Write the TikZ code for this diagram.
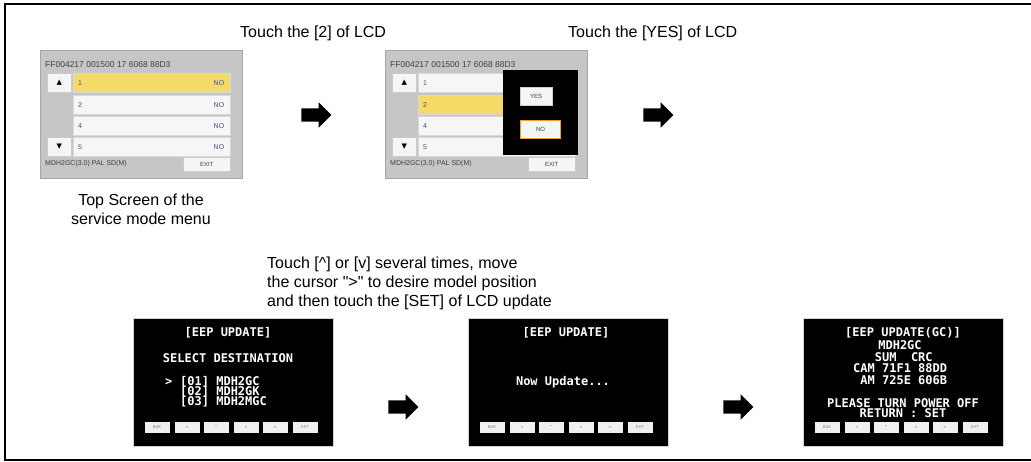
\documentclass[tikz,border=0pt]{standalone}
\usepackage{fontspec}
\setmainfont{Liberation Sans}
\newfontfamily\lcdfont{DejaVu Sans Mono}
\newfontfamily\symfont{DejaVu Sans}
\usetikzlibrary{positioning,shapes.arrows}
\definecolor{panelgray}{RGB}{198,198,198}
\definecolor{rowwhite}{RGB}{246,246,246}
\definecolor{rowyellow}{RGB}{246,218,104}
\definecolor{rowblue}{RGB}{70,80,130}
\definecolor{btnorange}{RGB}{240,160,40}

\begin{document}
\begin{tikzpicture}[x=1pt, y=-1pt,
  panel/.style={draw=gray!70, fill=panelgray, minimum width=202pt, minimum height=128pt, anchor=north west, inner sep=0pt},
  listrow/.style={draw=gray!30, fill=rowwhite, minimum width=157pt, minimum height=19pt, anchor=north west, inner sep=0pt},
  arrowbtn/.style={draw=gray!40, fill=gray!8, minimum width=24pt, minimum height=19pt, anchor=north west, inner sep=0pt, font=\symfont\fontsize{7}{7}\selectfont},
  tinytext/.style={inner sep=0pt, font=\fontsize{7}{8}\selectfont, text=gray!50!black},
  rowtext/.style={inner sep=0pt, font=\fontsize{7}{8}\selectfont, text=rowblue},
  okbtn/.style={draw=gray!40, fill=gray!8, anchor=north west, inner sep=0pt, font=\fontsize{6}{7}\selectfont, text=gray!50!black},
  lcd/.style={draw=gray!35, fill=black, minimum width=200pt, minimum height=128pt, anchor=north west, inner sep=0pt},
  lcdtext/.style={inner sep=0pt, text=white, font=\lcdfont\bfseries\fontsize{12}{12}\selectfont},
  lcdkey/.style={fill=gray!12, minimum width=25pt, minimum height=11pt, inner sep=0pt, font=\symfont\fontsize{4}{4}\selectfont, text=gray},
  bigarrow/.style={single arrow, fill=black, minimum height=30pt, inner xsep=0pt, inner ysep=6.5pt, single arrow head extend=6pt},
  caption/.style={inner sep=0pt, font=\fontsize{16}{19}\selectfont}
]
\useasboundingbox (0,0) rectangle (1031,462);

% Frame
\draw[line width=1.5pt] (5,4) rectangle (1034,460);

% Top screen of the service mode menu
\node[panel] (scr1) at (40,50) {};
\node[tinytext, anchor=west, font=\fontsize{8.5}{9}\selectfont] (hdr1) at (45,65) {FF004217 001500 17 6068 88D3};
\node[arrowbtn] (up1) at (47,73) {▲};
\node[arrowbtn] (dn1) at (47,137) {▼};
\node[listrow, fill=rowyellow] (r11) at (73,73) {};
\node[listrow] (r12) at (73,95) {};
\node[listrow] (r13) at (73,116) {};
\node[listrow] (r14) at (73,137) {};
\node[rowtext, right=5pt of r11.west] (n11) {1};
\node[rowtext, right=5pt of r12.west] (n12) {2};
\node[rowtext, right=5pt of r13.west] (n13) {4};
\node[rowtext, right=5pt of r14.west] (n14) {5};
\node[rowtext, left=6pt of r11.east] (v11) {NO};
\node[rowtext, left=6pt of r12.east] (v12) {NO};
\node[rowtext, left=6pt of r13.east] (v13) {NO};
\node[rowtext, left=6pt of r14.east] (v14) {NO};
\node[tinytext, anchor=west] (mdl1) at (45,164) {MDH2GC(3.0) PAL SD(M)};
\node[okbtn, minimum width=47pt, minimum height=14pt] (exit1) at (183,157) {EXIT};

% Screen after touching [2]
\node[panel] (scr2) at (385,50) {};
\node[tinytext, anchor=west, font=\fontsize{8.5}{9}\selectfont] (hdr2) at (390,65) {FF004217 001500 17 6068 88D3};
\node[arrowbtn] (up2) at (392,73) {▲};
\node[arrowbtn] (dn2) at (392,137) {▼};
\node[listrow] (r21) at (418,73) {};
\node[listrow, fill=rowyellow] (r22) at (418,95) {};
\node[listrow] (r23) at (418,116) {};
\node[listrow] (r24) at (418,137) {};
\node[rowtext, right=5pt of r21.west] (n21) {1};
\node[rowtext, right=5pt of r22.west] (n22) {2};
\node[rowtext, right=5pt of r23.west] (n23) {4};
\node[rowtext, right=5pt of r24.west] (n24) {5};
\node[tinytext, anchor=west] (mdl2) at (390,164) {MDH2GC(3.0) PAL SD(M)};
\node[okbtn, minimum width=47pt, minimum height=14pt] (exit2) at (528,157) {EXIT};
\node[fill=black, minimum width=75pt, minimum height=85pt, anchor=north west, inner sep=0pt] (dlg) at (503,70) {};
\node[okbtn, minimum width=32pt, minimum height=18pt] (yes) at (520,87) {YES};
\node[okbtn, draw=btnorange, line width=1.2pt, minimum width=40pt, minimum height=18pt] (no) at (520,120) {NO};

% Captions
\node[caption, anchor=west] (cap1) at (240,33) {Touch the [2] of LCD};
\node[caption, anchor=west] (cap2) at (568,33) {Touch the [YES] of LCD};
\node[caption, align=center] (cap3) at (141,209) {Top Screen of the\\service mode menu};
\node[caption, align=left, anchor=north west] (cap4) at (267,257) {Touch [\textasciicircum] or [v] several times, move\\the cursor \textquotedbl>\textquotedbl{} to desire model position\\and then touch the [SET] of LCD update};

% Arrows
\node[bigarrow] (arr1) at (313,115) {};
\node[bigarrow] (arr2) at (655,115) {};
\node[bigarrow] (arr3) at (400,407) {};
\node[bigarrow] (arr4) at (735,407) {};

% Select destination
\node[lcd] (lcdA) at (133,318) {};
\node[lcdtext] (ttlA) at (228,333) {[EEP UPDATE]};
\node[lcdtext] (selA) at (228,358) {SELECT DESTINATION};
\node[lcdtext, anchor=west] (curA) at (165,382) {>};
\node[lcdtext, anchor=west] (optA1) at (180,382) {[01] MDH2GC};
\node[lcdtext, anchor=west] (optA2) at (180,392) {[02] MDH2GK};
\node[lcdtext, anchor=west] (optA3) at (180,402) {[03] MDH2MGC};
\node[lcdkey] (kA1) at (157,427) {BAK};
\node[lcdkey] (kA2) at (187,427) {<};
\node[lcdkey] (kA3) at (216,427) {\textasciicircum};
\node[lcdkey] (kA4) at (246,427) {v};
\node[lcdkey] (kA5) at (275,427) {>};
\node[lcdkey] (kA6) at (305,427) {EXT};

% Updating
\node[lcd] (lcdB) at (468,318) {};
\node[lcdtext] (ttlB) at (566,333) {[EEP UPDATE]};
\node[lcdtext] (msgB) at (563,382) {Now Update...};
\node[lcdkey] (kB1) at (492,427) {BAK};
\node[lcdkey] (kB2) at (522,427) {<};
\node[lcdkey] (kB3) at (551,427) {\textasciicircum};
\node[lcdkey] (kB4) at (581,427) {v};
\node[lcdkey] (kB5) at (610,427) {>};
\node[lcdkey] (kB6) at (640,427) {EXT};

% Update finished
\node[lcd] (lcdC) at (803,318) {};
\node[lcdtext] (ttlC) at (903,333) {[EEP UPDATE(GC)]};
\node[lcdtext] (mdlC) at (900,345) {MDH2GC};
\node[lcdtext, anchor=west] (sumC) at (853,357) {~~~SUM~~CRC};
\node[lcdtext, anchor=west] (camC) at (853,368) {CAM~71F1~88DD};
\node[lcdtext, anchor=west] (amC) at (853,380) {~AM~725E~606B};
\node[lcdtext] (pwrC) at (903,403) {PLEASE TURN POWER OFF};
\node[lcdtext] (retC) at (903,413) {RETURN : SET};
\node[lcdkey] (kC1) at (827,427) {BAK};
\node[lcdkey] (kC2) at (857,427) {<};
\node[lcdkey] (kC3) at (886,427) {\textasciicircum};
\node[lcdkey] (kC4) at (916,427) {v};
\node[lcdkey] (kC5) at (945,427) {>};
\node[lcdkey] (kC6) at (975,427) {EXT};

\end{tikzpicture}
\end{document}
